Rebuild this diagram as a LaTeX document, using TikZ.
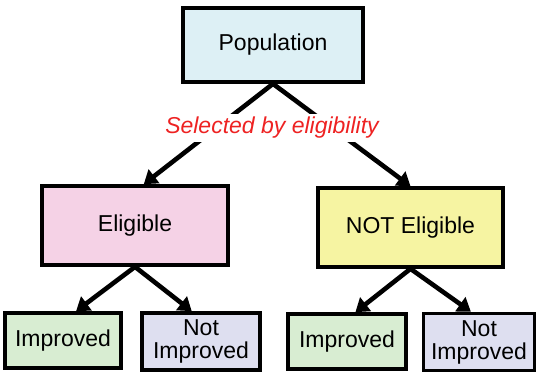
\documentclass[tikz,border=0pt]{standalone}
\usepackage{fontspec}
\setmainfont{Liberation Sans}
\usetikzlibrary{arrows.meta}
\definecolor{popblue}{HTML}{DDF0F5}
\definecolor{eligpink}{HTML}{F5D2E6}
\definecolor{notyellow}{HTML}{F6F4A2}
\definecolor{impgreen}{HTML}{D8EDD2}
\definecolor{notlav}{HTML}{DEDFF0}
\definecolor{labred}{HTML}{EE2222}
\tikzset{
  box/.style={draw=black, line width=3.6pt, font=\fontsize{23}{25}\selectfont, align=center, inner sep=0pt},
  conn/.style={line width=4.6pt, -{Triangle[length=13pt,width=17pt]}},
}
\begin{document}
\begin{tikzpicture}[x=1pt,y=-1pt]
\useasboundingbox (0,0) rectangle (537,379);
\node[box, fill=popblue, minimum width=180pt, minimum height=74pt] (pop) at (273,45) {Population};
\node[box, fill=eligpink, minimum width=186pt, minimum height=79pt] (elig) at (135,225.5) {Eligible};
\node[box, fill=notyellow, minimum width=185pt, minimum height=79pt] (nelig) at (410.5,227.5) {NOT Eligible};
\node[box, fill=impgreen, minimum width=116pt, minimum height=55pt] (imp1) at (63,340.5) {Improved};
\node[box, fill=notlav, minimum width=118pt, minimum height=57pt] (nimp1) at (201,341.5) {Not\\[-2pt]Improved};
\node[box, fill=impgreen, minimum width=118pt, minimum height=55pt] (imp2) at (347,341.5) {Improved};
\node[box, fill=notlav, minimum width=111pt, minimum height=57pt] (nimp2) at (479,342) {Not\\[-2pt]Improved};
\draw[conn] (pop.south) -- (elig.78);
\draw[conn] (pop.south) -- (nelig.north);
\node[fill=white, text=labred, font=\fontsize{23}{25}\selectfont\itshape, inner xsep=2pt, inner ysep=3pt] (lab) at (272,128) {Selected by eligibility};
\draw[conn] (elig.south) -- (imp1.66);
\draw[conn] (elig.south) -- (nimp1.107);
\draw[conn] (nelig.south) -- (imp2.74);
\draw[conn] (nelig.south) -- (nimp2.105);
\end{tikzpicture}
\end{document}
